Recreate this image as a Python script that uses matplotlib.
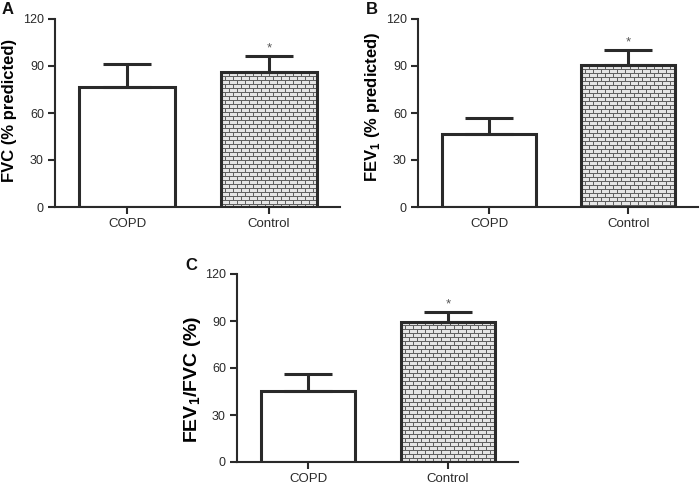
import numpy as np
import matplotlib
matplotlib.use("Agg")
import matplotlib.pyplot as plt

plt.rcParams['font.family'] = ['Liberation Sans', 'DejaVu Sans']
plt.rcParams['mathtext.fontset'] = 'custom'
plt.rcParams['mathtext.rm'] = 'Liberation Sans'
plt.rcParams['mathtext.bf'] = 'Liberation Sans:bold'

# values
groups = ['COPD', 'Control']
fvc_mean = [76.5, 86.0]
fvc_sd = [14.5, 10.3]
fev1_mean = [46.3, 90.5]
fev1_sd = [10.3, 9.7]
ratio_mean = [45.5, 89.5]
ratio_sd = [10.5, 6.3]
yticks = [0, 30, 60, 90, 120]
letters = ['A', 'B', 'C']
ylabels = ['FVC (% predicted)', r'FEV$_\mathbf{1}$ (% predicted)', r'FEV$_\mathbf{1}$/FVC (%)']

W, H = 700, 484
DARK = '#2a2a2a'


def brick_texture(h, w):
    img = np.full((h, w), 0.90)
    for r in range(h):
        if r % 4 == 0:
            img[r, :] = 0.38
        else:
            off = 0 if (r // 4) % 2 == 0 else 4
            img[r, off::8] = 0.38
    return img


def panel(fig, rect, means, sds, ylabel, ysize, ypos, letter, letter_xy):
    ax = fig.add_axes(rect)
    x = np.arange(len(groups))
    bars = ax.bar(x, means, width=0.675, fill=False, edgecolor=DARK,
                  linewidth=2.2, zorder=3)
    ax.errorbar(x, means, yerr=[np.zeros(len(sds)), sds], fmt='none',
                ecolor=DARK, elinewidth=2.2, capsize=17, capthick=2.2, zorder=2)
    ax.set_xlim(-0.51, 1.5)
    ax.set_ylim(0, 120)
    ax.set_yticks(yticks)
    ax.set_xticks(x)
    ax.set_xticklabels(groups)
    for s in ['top', 'right']:
        ax.spines[s].set_visible(False)
    for s in ['left', 'bottom']:
        ax.spines[s].set_linewidth(1.5)
        ax.spines[s].set_color(DARK)
    ax.tick_params(direction='out', length=5, width=1.5, color=DARK,
                   labelcolor=DARK)
    ax.tick_params(axis='y', labelsize=9, pad=3)
    ax.tick_params(axis='x', labelsize=9.5, pad=3)
    ax.set_ylabel(ylabel, fontsize=ysize, fontweight='bold', va='center')
    ax.yaxis.set_label_coords(*ypos)

    # brick pattern on the control bar
    b = bars[1]
    bb = b.get_window_extent(renderer=fig.canvas.get_renderer())
    img = brick_texture(max(int(round(bb.height)), 1), max(int(round(bb.width)), 1))
    im = ax.imshow(img, cmap='gray', vmin=0, vmax=1, interpolation='nearest',
                   extent=(b.get_x(), b.get_x() + b.get_width(), 0, b.get_height()),
                   aspect='auto', zorder=1)
    im.set_clip_path(b)
    ax.set_xlim(-0.51, 1.5)
    ax.set_ylim(0, 120)

    i = 1
    ax.text(x[i], means[i] + sds[i] + 1.2, '*', ha='center', va='bottom',
            fontsize=9.5, color='#555555')
    fig.text(letter_xy[0] / W, 1 - letter_xy[1] / H, letter, fontsize=12,
             fontweight='bold', ha='left', va='center', color='#111111')
    return ax


fig = plt.figure(figsize=(7, 4.84), dpi=100)


def rect(l, r, t, b):
    return [l / W, 1 - b / H, (r - l) / W, (b - t) / H]


panel(fig, rect(55, 340, 19, 207), fvc_mean, fvc_sd, ylabels[0], 12,
      (-0.158, 0.516), letters[0], (2, 10))
panel(fig, rect(418, 698, 19, 207), fev1_mean, fev1_sd, ylabels[1], 12,
      (-0.164, 0.532), letters[1], (366, 10))
panel(fig, rect(237, 518, 274, 462), ratio_mean, ratio_sd, ylabels[2], 14,
      (-0.16, 0.441), letters[2], (185, 266))

fig.savefig('out.png', dpi=100)
